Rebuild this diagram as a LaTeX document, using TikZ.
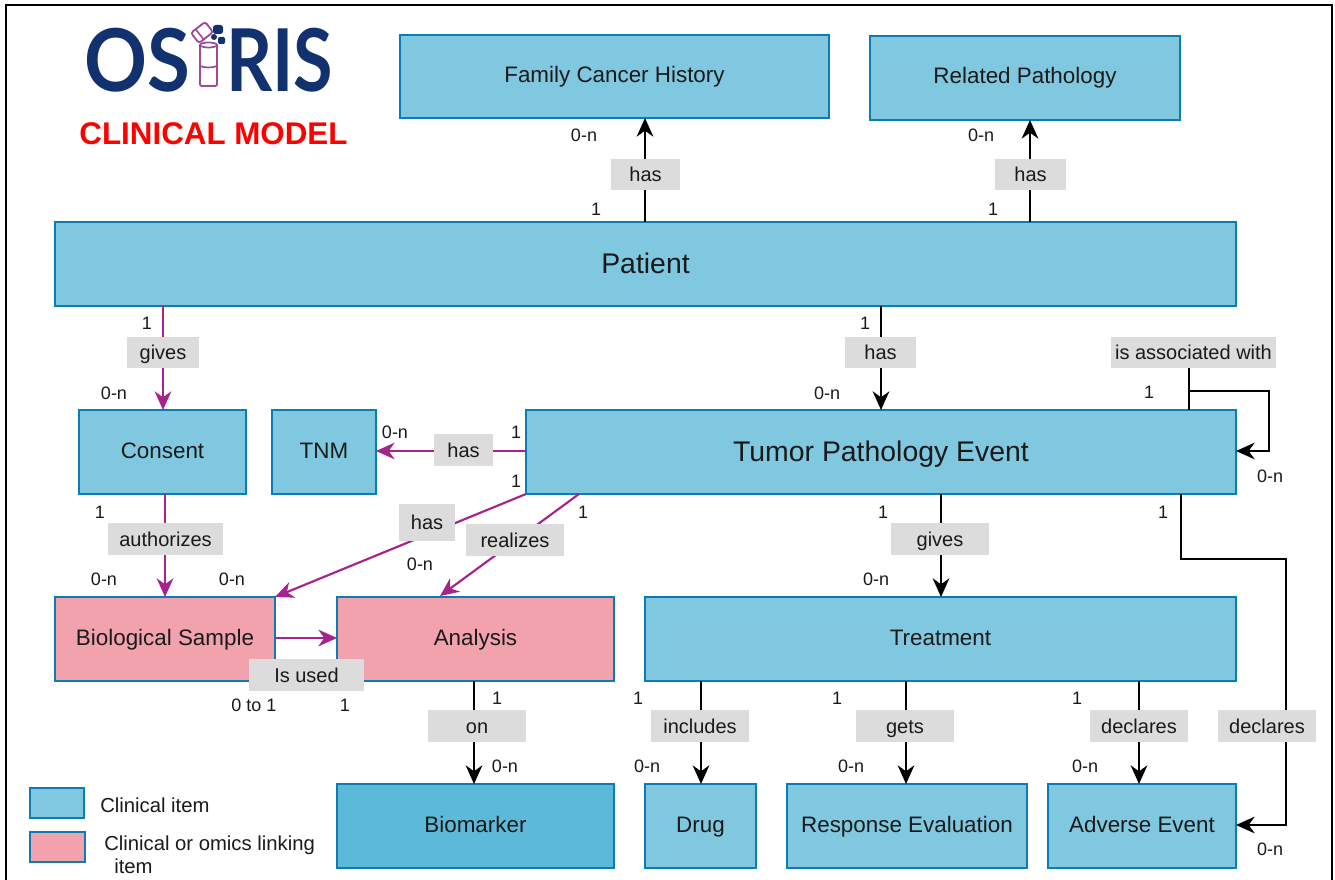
\documentclass[tikz,border=0pt]{standalone}
\usepackage{graphicx}
\usepackage{fontspec}
\setmainfont{Liberation Sans}
\newfontfamily\logofont{Lato}
\usetikzlibrary{arrows.meta}
\definecolor{boxblue}{HTML}{7FC8E0}
\definecolor{boxdeep}{HTML}{5CB9D8}
\definecolor{boxpink}{HTML}{F1A2AD}
\definecolor{boxedge}{HTML}{0B7DB4}
\definecolor{lblgray}{HTML}{DCDCDC}
\definecolor{linkpurple}{HTML}{A6228C}
\definecolor{logonavy}{HTML}{12326F}
\definecolor{logopurple}{HTML}{A2489B}
\definecolor{ink}{HTML}{1A1A1A}
\tikzset{
  itembox/.style={draw=boxedge,line width=1.8pt,fill=boxblue,text=ink,outer sep=0pt,inner sep=0pt,text height=12.5pt,text depth=3.5pt,font=\fontsize{16.8}{20}\selectfont},
  pinkitem/.style={itembox,fill=boxpink},
  deepitem/.style={itembox,fill=boxdeep},
  bigitem/.style={itembox,text height=18pt,text depth=3.5pt,font=\fontsize{21.3}{25}\selectfont},
  verb/.style={fill=lblgray,text=ink,inner sep=0pt,text height=12pt,text depth=1pt,font=\fontsize{15}{18}\selectfont},
  card/.style={text=ink,inner sep=0pt,font=\fontsize{13.5}{16}\selectfont},
  legendtext/.style={text=ink,inner sep=0pt,anchor=west,font=\fontsize{15.2}{17.5}\selectfont,align=left},
  conn/.style={line width=1.6pt,draw=black,-{Stealth[length=14pt,width=12.5pt,inset=4.5pt]}},
  connplain/.style={line width=1.6pt,draw=black},
  plink/.style={line width=1.6pt,draw=linkpurple,-{Stealth[length=14pt,width=12.5pt,inset=4.5pt]}},
}
\newcommand{\bx}[7][]{\node[#2,minimum width={(#5-#3)*0.75pt},minimum height={(#6-#4)*0.75pt},#1] (#7) at ({(#3+#5)/2},{(#4+#6)/2})}
\newcommand{\vb}[6]{\node[verb,minimum width={(#4-#2)*0.75pt},minimum height={(#5-#3)*0.75pt}] (#1) at ({(#2+#4)/2},{(#3+#5)/2}) {#6};}
\begin{document}
\begin{tikzpicture}[x=0.75pt,y=-0.75pt]
\useasboundingbox (0,0) rectangle (1335,880);
\fill[white] (0,0) rectangle (1335,880);
\coordinate (frameBL) at (6,880);
\coordinate (frameTL) at (6,5);
\coordinate (frameTR) at (1332,5);
\coordinate (frameBR) at (1332,880);
\draw[line width=1pt,black] (frameBL) -- (frameTL) -- (frameTR) -- (frameBR);

% logo
\node[inner sep=0pt,anchor=east,text=logonavy,font=\logofont\bfseries\fontsize{65}{65}\selectfont] (logoA) at (190.5,60) {\scalebox{0.9}[1]{OS}};
\node[inner sep=0pt,anchor=west,text=logonavy,font=\logofont\bfseries\fontsize{65}{65}\selectfont] (logoB) at (226,60) {\scalebox{0.83}[1]{RIS}};
\draw[logopurple,line width=1.3pt,rounded corners=1pt] (200,45) -- (200,86) -- (217,86) -- (217,45);
\draw[logopurple,line width=1.3pt] (208.5,45) ellipse (8.5 and 2.5);
\draw[logopurple,line width=1.3pt] (200,66) .. controls (205,68) and (212,68) .. (217,66);
\begin{scope}[shift={(202,32.5)},rotate=38]
\draw[logopurple,line width=1.4pt,rounded corners=2pt] (-9,-6.5) rectangle (9,6.5);
\draw[logopurple,line width=1.2pt] (-3,-6.5) -- (-3,6.5);
\end{scope}
\fill[logonavy,rounded corners=2pt] (213,25) rectangle (223,34);
\fill[logonavy] (214,37) circle (3);
\fill[logonavy,rounded corners=1pt] (218,37) rectangle (225,44);
\node[inner sep=0pt,text=red,font=\bfseries\fontsize{23.5}{28}\selectfont] (title) at (213.5,134) {CLINICAL MODEL};

% boxes
\bx{itembox}{400}{35}{829}{118}{family} {Family Cancer History};
\bx{itembox}{870}{36}{1180}{120}{related} {Related Pathology};
\bx{bigitem}{55}{222}{1236}{306}{patient} {Patient};
\bx{itembox}{79}{410}{246}{494}{consent} {Consent};
\bx{itembox}{272}{410}{376}{494}{tnm} {TNM};
\bx{bigitem}{526}{410}{1236}{494}{tumor} {Tumor Pathology Event};
\bx{pinkitem}{55}{597}{275}{681}{bio} {Biological Sample};
\bx{pinkitem}{337}{597}{614}{681}{analysis} {Analysis};
\bx{itembox}{645}{597}{1236}{681}{treatment} {Treatment};
\bx{deepitem}{337}{784}{614}{868}{biomarker} {Biomarker};
\bx{itembox}{645}{784}{756}{868}{drug} {Drug};
\bx{itembox}{787}{784}{1027}{868}{response} {Response Evaluation};
\bx{itembox}{1048}{784}{1236}{868}{adverse} {Adverse Event};
\bx[line width=1.5pt]{itembox}{30}{788}{84}{818}{legA} {};
\bx[line width=1.5pt]{pinkitem}{30}{832}{85}{862}{legB} {};

% drop lines
\coordinate (xFam) at (645,170);
\coordinate (xRel) at (1030,170);
\coordinate (xCon) at (163,350);
\coordinate (xTum) at (881,350);
\coordinate (xAuth) at (165,540);
\coordinate (xAssoc) at (1189,391);
\coordinate (assocR) at (1269,391);
\coordinate (yAssoc) at (1269,451);
\coordinate (yTnm) at (450,451);
\coordinate (tumRealize) at (579,494);
\coordinate (anaIn) at (440,596);
\coordinate (xTreat) at (941,540);
\coordinate (xDecl) at (1181,559);
\coordinate (declR) at (1286,559);
\coordinate (declD) at (1286,825);
\coordinate (yBio) at (300,638);
\coordinate (xOn) at (474,740);
\coordinate (xDrug) at (701,740);
\coordinate (xResp) at (906,740);
\coordinate (xAdv) at (1139,740);

\draw[conn] (patient.north -| xFam) -- (family.south -| xFam);
\draw[conn] (patient.north -| xRel) -- (related.south -| xRel);
\draw[plink] (patient.south -| xCon) -- (consent.north -| xCon);
\draw[conn] (patient.south -| xTum) -- (tumor.north -| xTum);
\draw[connplain] (tumor.north -| xAssoc) -- ++(0,-73);
\draw[conn] (xAssoc) -- (assocR) -- (yAssoc) -- (tumor.east |- yAssoc);
\draw[plink] (tumor.west |- yTnm) -- (tnm.east |- yTnm);
\draw[plink] (consent.south -| xAuth) -- (bio.north -| xAuth);
\draw[plink] (tumor.south west) -- (bio.north east);
\draw[plink] (tumRealize) -- (anaIn);
\draw[conn] (tumor.south -| xTreat) -- (treatment.north -| xTreat);
\draw[conn] (tumor.south -| xDecl) -- (xDecl) -- (declR) -- (declD) -- (adverse.east |- declD);
\draw[plink] (bio.east |- yBio) -- (analysis.west |- yBio);
\draw[conn] (analysis.south -| xOn) -- (biomarker.north -| xOn);
\draw[conn] (treatment.south -| xDrug) -- (drug.north -| xDrug);
\draw[conn] (treatment.south -| xResp) -- (response.north -| xResp);
\draw[conn] (treatment.south -| xAdv) -- (adverse.north -| xAdv);

% verbs
\vb{vA}{611}{159}{680}{190}{has}
\vb{vB}{995}{159}{1066}{190}{has}
\vb{vC}{127}{337}{199}{368}{gives}
\vb{vD}{845}{337}{916}{368}{has}
\vb{vE}{1111}{337}{1276}{368}{is associated with}
\vb{vF}{434}{434}{493}{466}{has}
\vb{vG}{399}{504}{455}{541}{has}
\vb{vH}{466}{524}{564}{556}{realizes}
\vb{vI}{108}{523}{223}{555}{authorizes}
\vb{vJ}{891}{523}{989}{555}{gives}
\vb{vK}{249}{659}{364}{691}{Is used}
\vb{vL}{428}{710}{526}{742}{on}
\vb{vM}{651}{710}{749}{742}{includes}
\vb{vN}{856}{710}{954}{742}{gets}
\vb{vO}{1090}{710}{1188}{742}{declares}
\vb{vP}{1218}{710}{1316}{742}{declares}

% cardinalities
\node[card] (c01) at (584,135) {0-n};
\node[card] (c02) at (596,209) {1};
\node[card] (c03) at (981,135) {0-n};
\node[card] (c04) at (993,209) {1};
\node[card] (c05) at (147,323) {1};
\node[card] (c06) at (114,393) {0-n};
\node[card] (c07) at (865,323) {1};
\node[card] (c08) at (827,393) {0-n};
\node[card] (c09) at (1149,392) {1};
\node[card] (c10) at (1270,476) {0-n};
\node[card] (c11) at (395,432) {0-n};
\node[card] (c12) at (516,432) {1};
\node[card] (c13) at (516,481) {1};
\node[card] (c14) at (100,512) {1};
\node[card] (c15) at (583,512) {1};
\node[card] (c16) at (420,564) {0-n};
\node[card] (c17) at (883,512) {1};
\node[card] (c18) at (1163,512) {1};
\node[card] (c19) at (104,579) {0-n};
\node[card] (c20) at (232,579) {0-n};
\node[card] (c21) at (876,579) {0-n};
\node[card] (c22) at (254,705) {0 to 1};
\node[card] (c23) at (345,705) {1};
\node[card] (c24) at (497,698) {1};
\node[card] (c25) at (638,698) {1};
\node[card] (c26) at (837,698) {1};
\node[card] (c27) at (1077,698) {1};
\node[card] (c28) at (505,766) {0-n};
\node[card] (c29) at (647,766) {0-n};
\node[card] (c30) at (851,766) {0-n};
\node[card] (c31) at (1085,766) {0-n};
\node[card] (c32) at (1270,849) {0-n};

% legend
\node[legendtext] (tA) at (100,805) {Clinical item};
\node[legendtext] (tB) at (104,855) {Clinical or omics linking\\\hspace*{7.5pt}item};
\end{tikzpicture}
\end{document}
